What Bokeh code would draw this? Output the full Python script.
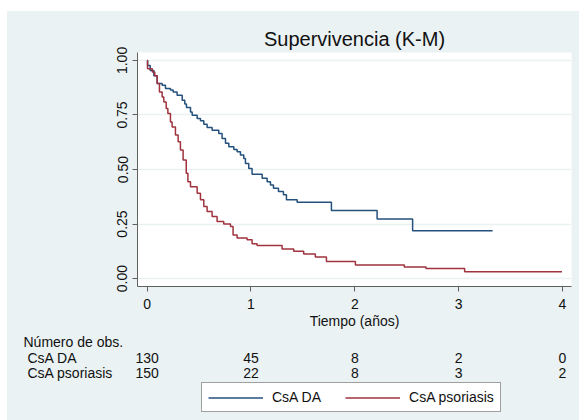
from bokeh.plotting import figure
from bokeh.layouts import column
from bokeh.models import Range1d, FixedTicker, Legend, LegendItem, ColumnDataSource
from bokeh.core.properties import value
from bokeh.embed import file_html
from bokeh.resources import INLINE

FONT = "Liberation Sans"

# Kaplan-Meier estimates (time in years, survival after each step)
da_time = [0.0, 0.005, 0.03, 0.065, 0.097, 0.145, 0.177, 0.225, 0.251, 0.289, 0.338, 0.363,
           0.379, 0.418, 0.434, 0.482, 0.514, 0.546, 0.578, 0.626, 0.69, 0.722, 0.755, 0.787,
           0.835, 0.867, 0.899, 0.931, 0.947, 0.979, 1.011, 1.108, 1.156, 1.188, 1.217, 1.265,
           1.313, 1.342, 1.445, 1.775, 2.215, 2.557]
da_surv = [1.0, 0.977, 0.954, 0.93, 0.894, 0.886, 0.871, 0.864, 0.855, 0.84, 0.817, 0.80,
           0.784, 0.764, 0.749, 0.734, 0.723, 0.708, 0.693, 0.68, 0.665, 0.642, 0.62, 0.604,
           0.592, 0.581, 0.566, 0.551, 0.528, 0.505, 0.478, 0.46, 0.444, 0.429, 0.414, 0.399,
           0.384, 0.361, 0.35, 0.312, 0.273, 0.219]
da_end = 3.327

pso_time = [0.0, 0.004, 0.05, 0.074, 0.097, 0.119, 0.145, 0.161, 0.184, 0.2, 0.225, 0.241,
            0.273, 0.299, 0.321, 0.347, 0.377, 0.393, 0.418, 0.482, 0.514, 0.546, 0.578, 0.626,
            0.674, 0.738, 0.803, 0.828, 0.867, 0.963, 1.011, 1.059, 1.30, 1.412, 1.508, 1.62,
            1.727, 2.006, 2.477, 2.686, 3.058]
pso_surv = [1.0, 0.962, 0.947, 0.93, 0.894, 0.855, 0.833, 0.81, 0.78, 0.757, 0.718, 0.695,
            0.658, 0.627, 0.589, 0.543, 0.483, 0.444, 0.421, 0.391, 0.361, 0.33, 0.307, 0.285,
            0.262, 0.25, 0.239, 0.20, 0.186, 0.178, 0.16, 0.151, 0.136, 0.125, 0.113, 0.099,
            0.078, 0.062, 0.053, 0.046, 0.031]
pso_end = 3.995

group_names = ["CsA DA", "CsA psoriasis"]
xticks = [0, 1, 2, 3, 4]
yticks = [0.0, 0.25, 0.5, 0.75, 1.0]
ytick_labels = ["0.00", "0.25", "0.50", "0.75", "1.00"]
risk_times = [0, 1, 2, 3, 4]
da_risk = [130, 45, 8, 2, 0]
pso_risk = [150, 22, 8, 3, 2]

BLUE = "#24507c"
RED = "#a0333d"
BG = "#EAF2F3"
TXT = "#111111"

# ---------------- main chart ----------------
p = figure(width=572, height=320, output_backend="svg", toolbar_location=None,
           x_range=Range1d(-0.0924, 4.087), y_range=Range1d(-0.0365, 1.0365),
           min_border_left=130, min_border_right=8, min_border_top=41, min_border_bottom=44,
           title="Supervivencia (K-M)")
p.frame_align = False
p.border_fill_color = BG
p.background_fill_color = "white"
p.outline_line_color = None
p.title.align = "center"
p.title.text_font = FONT
p.title.text_font_size = "20px"
p.title.text_font_style = "normal"
p.title.text_color = TXT
p.title.standoff = 6

r1 = p.step(da_time + [da_end], da_surv + [da_surv[-1]], mode="after", line_color=BLUE, line_width=1.5)
r2 = p.step(pso_time + [pso_end], pso_surv + [pso_surv[-1]], mode="after", line_color=RED, line_width=1.5)

p.xgrid.visible = False
p.ygrid.ticker = FixedTicker(ticks=yticks)
p.ygrid.grid_line_color = BG
p.ygrid.grid_line_width = 1.5

for ax in (p.xaxis[0], p.yaxis[0]):
    ax.axis_line_color = "#606060"
    ax.major_tick_line_color = "#606060"
    ax.major_tick_out = 5
    ax.major_tick_in = 0
    ax.minor_tick_line_color = None
    ax.major_label_text_font = FONT
    ax.major_label_text_font_size = "14px"
    ax.major_label_text_color = TXT

p.xaxis.ticker = FixedTicker(ticks=xticks)
p.xaxis.major_label_standoff = 7
p.xaxis.axis_label = "Tiempo (años)"
p.xaxis.axis_label_text_font = FONT
p.xaxis.axis_label_text_font_size = "14px"
p.xaxis.axis_label_text_font_style = "normal"
p.xaxis.axis_label_text_color = TXT
p.xaxis.axis_label_standoff = 1
p.yaxis.ticker = FixedTicker(ticks=yticks)
p.yaxis.major_label_overrides = {t: s for t, s in zip(yticks, ytick_labels)}
p.yaxis.major_label_orientation = "vertical"
p.yaxis.major_label_standoff = 5

# ---------------- number-at-risk table and legend ----------------
x0 = 146.6 - 7     # pixel of t=0 inside this block
ppu = 103.85       # pixels per year
q = figure(width=572, height=89, output_backend="svg", toolbar_location=None,
           x_range=Range1d(-x0 / ppu, (572 - x0) / ppu), y_range=Range1d(89, 0),
           min_border_left=0, min_border_right=0, min_border_top=0, min_border_bottom=0,
           x_axis_location=None, y_axis_location=None)
q.frame_align = False
q.border_fill_color = BG
q.background_fill_color = BG
q.outline_line_color = None
q.grid.visible = False

row_y = [26, 41]
head = ColumnDataSource(dict(x=[(16 - x0) / ppu], y=[10], t=["Número de obs."]))
names = ColumnDataSource(dict(x=[(20 - x0) / ppu] * 2, y=row_y, t=group_names))
nums = ColumnDataSource(dict(x=risk_times + risk_times,
                             y=[row_y[0]] * len(da_risk) + [row_y[1]] * len(pso_risk),
                             t=[str(v) for v in da_risk + pso_risk]))
for src, al in ((head, "left"), (names, "left"), (nums, "center")):
    q.text(x="x", y="y", text="t", source=src, text_align=al, text_baseline="middle",
           text_font=value(FONT), text_font_size="14px", text_color=TXT)

# off-screen proxy lines used only as legend keys
l1 = q.line([-20, -19], [500, 500], line_color=BLUE, line_width=1.5)
l2 = q.line([-20, -19], [500, 500], line_color=RED, line_width=1.5)
legend = Legend(items=[LegendItem(label=group_names[0], renderers=[l1]),
                       LegendItem(label=group_names[1], renderers=[l2])],
                orientation="horizontal", location=(194, 8), margin=0, padding=6,
                spacing=24, glyph_width=55, glyph_height=13, label_height=13, label_standoff=9,
                label_text_font=FONT, label_text_font_size="14px", label_text_color=TXT,
                border_line_color="#404040", border_line_width=1,
                background_fill_color="white", background_fill_alpha=1.0)
q.add_layout(legend)

layout = column(p, q, spacing=0)
layout.styles = {"margin-left": "7px", "margin-top": "11px", "background-color": BG}

open("out.html", "w").write(file_html(layout, INLINE))
